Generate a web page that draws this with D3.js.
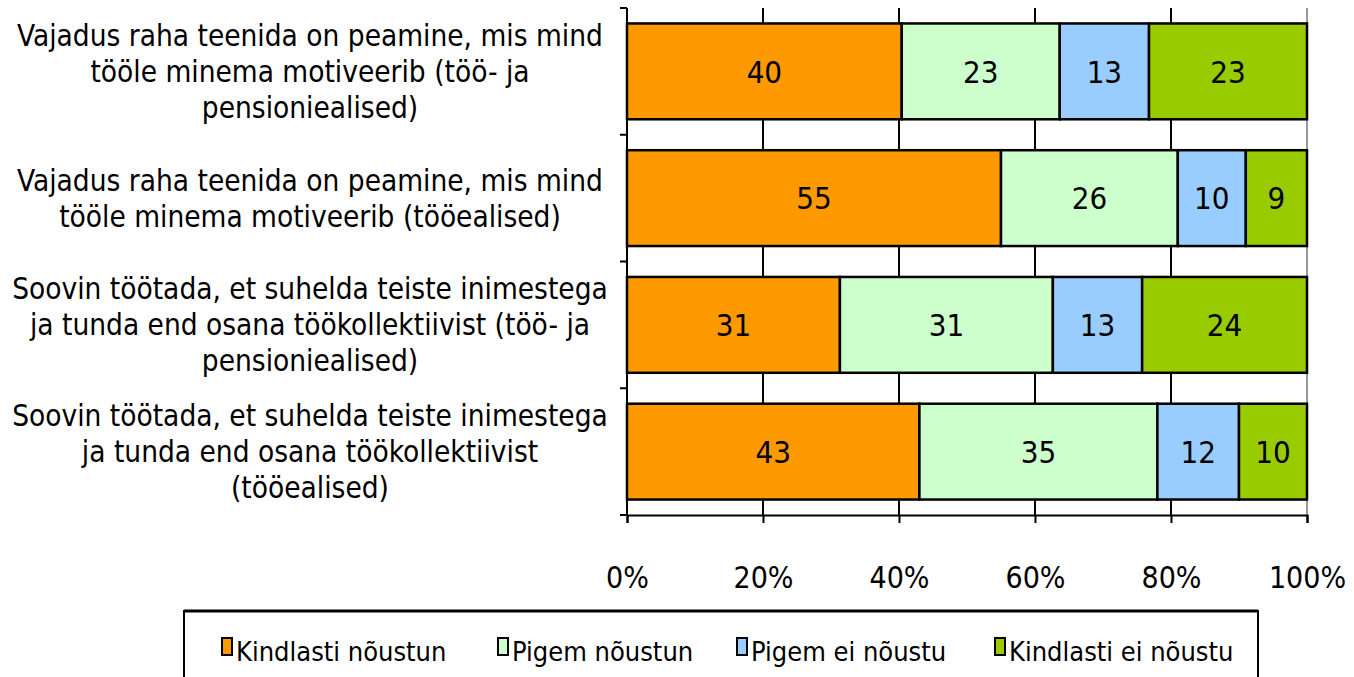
<!DOCTYPE html>
<html lang="et">
  <head>
    <meta charset="UTF-8" />
    <title>Motivatsioon</title>
    <script src="https://cdn.jsdelivr.net/npm/d3@7"></script>
    <style>
      html,
      body {
        margin: 0;
        background: #fff;
      }
      svg {
        display: block;
        font-family: 'DejaVu Sans Condensed', 'DejaVu Sans', sans-serif;
      }
    </style>
  </head>
  <body>
    <div id="chart"></div>
    <script>
      const categories = [
        ["Vajadus raha teenida on peamine, mis mind", "tööle minema motiveerib (töö- ja", "pensioniealised)"],
        ["Vajadus raha teenida on peamine, mis mind", "tööle minema motiveerib (tööealised)"],
        ["Soovin töötada, et suhelda teiste inimestega", "ja tunda end osana töökollektiivist (töö- ja", "pensioniealised)"],
        ["Soovin töötada, et suhelda teiste inimestega", "ja tunda end osana töökollektiivist", "(tööealised)"],
      ];
      const seriesNames = ["Kindlasti nõustun", "Pigem nõustun", "Pigem ei nõustu", "Kindlasti ei nõustu"];
      const colors = ["#ff9900", "#ccffcc", "#99ccff", "#99cc00"];
      const kindlastiNoustun = [40, 55, 31, 43];
      const pigemNoustun = [23, 26, 31, 35];
      const pigemEiNoustu = [13, 10, 13, 12];
      const kindlastiEiNoustu = [23, 9, 24, 10];
      const xTicks = [0, 0.2, 0.4, 0.6, 0.8, 1];

      const rows = categories.map((c, i) => ({
        key: i,
        [seriesNames[0]]: kindlastiNoustun[i],
        [seriesNames[1]]: pigemNoustun[i],
        [seriesNames[2]]: pigemEiNoustu[i],
        [seriesNames[3]]: kindlastiEiNoustu[i],
      }));

      const width = 1354,
        height = 677;
      const plot = { left: 627, right: 1307, top: 8, bottom: 515 };

      const svg = d3
        .select("#chart")
        .append("svg")
        .attr("width", width)
        .attr("height", height);

      const x = d3.scaleLinear().domain([0, 1]).range([plot.left, plot.right]);
      const y = d3
        .scaleBand()
        .domain(d3.range(categories.length))
        .range([plot.top, plot.bottom])
        .paddingInner(0.244)
        .paddingOuter(0.122);

      const stack = d3.stack().keys(seriesNames).offset(d3.stackOffsetExpand);
      const series = stack(rows);

      // gridlines
      svg
        .append("g")
        .selectAll("line")
        .data(xTicks.slice(1, -1))
        .join("line")
        .attr("x1", (d) => x(d))
        .attr("x2", (d) => x(d))
        .attr("y1", plot.top)
        .attr("y2", plot.bottom)
        .attr("stroke", "#000")
        .attr("stroke-width", 2);

      // right border of plot area
      svg
        .append("line")
        .attr("x1", x(1))
        .attr("x2", x(1))
        .attr("y1", plot.top)
        .attr("y2", plot.bottom)
        .attr("stroke", "#999")
        .attr("stroke-width", 2);

      // bars
      const groups = svg
        .append("g")
        .selectAll("g")
        .data(series)
        .join("g")
        .attr("fill", (d, i) => colors[i]);

      groups
        .selectAll("rect")
        .data((d) => d)
        .join("rect")
        .attr("x", (d) => x(d[0]))
        .attr("y", (d) => y(d.data.key))
        .attr("width", (d) => x(d[1]) - x(d[0]))
        .attr("height", y.bandwidth())
        .attr("stroke", "#000")
        .attr("stroke-width", 2.5);

      // value labels
      groups
        .selectAll("text")
        .data((d) => d.map((v) => ({ v, val: v.data[d.key] })))
        .join("text")
        .attr("x", (d) => (x(d.v[0]) + x(d.v[1])) / 2)
        .attr("y", (d) => y(d.v.data.key) + y.bandwidth() / 2)
        .attr("dy", "0.36em")
        .attr("text-anchor", "middle")
        .attr("fill", "#000")
        .attr("font-size", 31)
        .text((d) => d.val);

      // y axis
      const yAxis = svg.append("g");
      yAxis
        .append("line")
        .attr("x1", plot.left)
        .attr("x2", plot.left)
        .attr("y1", plot.top)
        .attr("y2", plot.bottom)
        .attr("stroke", "#000")
        .attr("stroke-width", 2);
      const step = y.step();
      yAxis
        .selectAll(".tick")
        .data(d3.range(categories.length + 1))
        .join("line")
        .attr("x1", plot.left - 7)
        .attr("x2", plot.left)
        .attr("y1", (d) => plot.top + d * step)
        .attr("y2", (d) => plot.top + d * step)
        .attr("stroke", "#000")
        .attr("stroke-width", 2);

      const lineH = 36;
      yAxis
        .selectAll("text")
        .data(categories)
        .join("text")
        .attr("text-anchor", "middle")
        .attr("font-size", 29.5)
        .attr("fill", "#000")
        .each(function (lines, i) {
          const cy = y(i) + y.bandwidth() / 2;
          const y0 = cy - ((lines.length - 1) * lineH) / 2;
          d3.select(this)
            .selectAll("tspan")
            .data(lines)
            .join("tspan")
            .attr("x", 310)
            .attr("y", (d, j) => y0 + j * lineH)
            .attr("dy", "0.36em")
            .text((d) => d);
        });

      // x axis
      const xAxis = svg
        .append("g")
        .attr("transform", `translate(0,${plot.bottom})`)
        .call(
          d3
            .axisBottom(x)
            .tickValues(xTicks)
            .tickSize(8)
            .tickPadding(44)
            .tickFormat(d3.format(".0%"))
        );
      xAxis.select(".domain").attr("stroke", "#000").attr("stroke-width", 2);
      xAxis.selectAll(".tick line").attr("stroke", "#000").attr("stroke-width", 2);
      xAxis
        .selectAll(".tick text")
        .attr("font-family", "'DejaVu Sans Condensed', 'DejaVu Sans', sans-serif")
        .attr("font-size", 30)
        .attr("fill", "#000");

      // legend
      const legend = svg.append("g");
      legend
        .append("rect")
        .attr("x", 184)
        .attr("y", 611)
        .attr("width", 1074)
        .attr("height", 90)
        .attr("fill", "#fff")
        .attr("stroke", "#000")
        .attr("stroke-width", 2);
      legend
        .append("line")
        .attr("x1", 184)
        .attr("x2", 1258)
        .attr("y1", 611)
        .attr("y2", 611)
        .attr("stroke", "#000")
        .attr("stroke-width", 3);
      const legendX = [222, 498, 737, 995];
      const items = legend
        .selectAll(".item")
        .data(seriesNames)
        .join("g")
        .attr("class", "item")
        .attr("transform", (d, i) => `translate(${legendX[i]},0)`);
      items
        .append("rect")
        .attr("x", 0)
        .attr("y", 638)
        .attr("width", 10)
        .attr("height", 17)
        .attr("fill", (d, i) => colors[i])
        .attr("stroke", "#000")
        .attr("stroke-width", 2);
      items
        .append("text")
        .attr("x", 14)
        .attr("y", 651)
        .attr("dy", "0.36em")
        .attr("font-size", 27)
        .attr("fill", "#000")
        .text((d) => d);
    </script>
  </body>
</html>
